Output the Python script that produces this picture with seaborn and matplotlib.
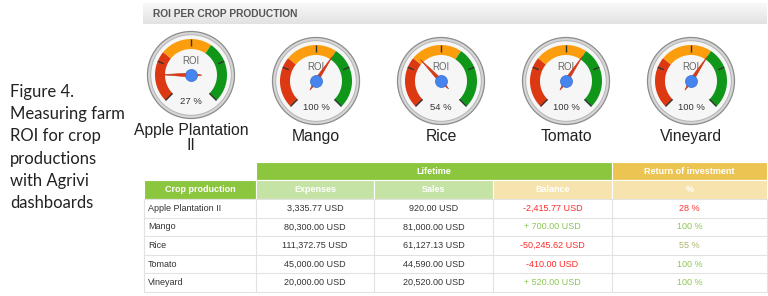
import numpy as np
import textwrap
import matplotlib
matplotlib.use("Agg")
import matplotlib.pyplot as plt
from matplotlib.patches import Circle, Polygon, Rectangle
import seaborn as sns

# ---------------- data ----------------
crops = ["Apple Plantation II", "Mango", "Rice", "Tomato", "Vineyard"]
gauge_roi = [27, 100, 54, 100, 100]          # value shown in gauges (%)
expenses = [3335.77, 80300.00, 111372.75, 45000.00, 20000.00]
sales = [920.00, 81000.00, 61127.13, 44590.00, 20520.00]
balance = [-2415.77, 700.00, -50245.62, -410.00, 520.00]
table_roi = [28, 100, 55, 100, 100]          # % column of table
gauge_min, gauge_max = 0, 160
zones = [(0, 50, "#dc3912"), (50, 100, "#fb9d0c"), (100, 160, "#109618")]
title = "ROI PER CROP PRODUCTION"
caption = ["Figure 4.", "Measuring farm", "ROI for crop", "productions",
           "with Agrivi", "dashboards"]
col_headers = ["Crop production", "Expenses", "Sales", "Balance", "%"]

# ---------------- setup ----------------
sns.set_theme(style="white")
plt.rcParams["font.family"] = ["Liberation Sans", "DejaVu Sans"]

fig = plt.figure(figsize=(7.68, 2.96), dpi=100)
ax = fig.add_axes([0, 0, 1, 1])
ax.set_xlim(0, 768)
ax.set_ylim(296, 0)
ax.axis("off")


def ang(v):
    return np.deg2rad(-135 + 270 * (v - gauge_min) / (gauge_max - gauge_min))


def pt(cx, cy, r, a):
    return cx + r * np.sin(a), cy - r * np.cos(a)


# ---------------- header bar ----------------
grad = np.linspace(0, 1, 50).reshape(-1, 1)
ax.imshow(grad, cmap=matplotlib.colors.LinearSegmentedColormap.from_list(
    "g", ["#f9f9f9", "#e2e2e2"]), extent=(143, 767, 24, 3), aspect="auto", zorder=0)
ax.text(153, 14, title, fontsize=7.4, fontweight="bold", color="#555555",
        va="center", ha="left")

# ---------------- caption ----------------
for i, line in enumerate(caption):
    ax.text(10, 92 + 22.2 * i, line, fontsize=12, color="#222222", va="center",
            ha="left", family=["Lato", "DejaVu Sans"])

# ---------------- gauges ----------------
cxs, cys = [], []
for i, (name, v) in enumerate(zip(crops, gauge_roi)):
    lines = textwrap.wrap(name, 16)
    cx = 191 + 125 * i
    cy = 81 - 6 * (len(lines) - 1)
    cxs.append(cx)
    cys.append(cy)
    ax.add_patch(Circle((cx, cy), 43.5, fc="#d6d6d6", ec="#8c8c8c", lw=0.9, zorder=1))
    ax.add_patch(Circle((cx, cy), 40.3, fc="#f6f6f6", ec="#b3b3b3", lw=0.7, zorder=1))
    for z0, z1, col in zones:
        a = np.linspace(ang(z0), ang(z1), 60)
        xo, yo = pt(cx, cy, 36, a)
        xi, yi = pt(cx, cy, 26, a[::-1])
        ax.add_patch(Polygon(np.column_stack([np.r_[xo, xi], np.r_[yo, yi]]),
                             fc=col, ec="none", zorder=2))
    for tv in np.linspace(gauge_min, gauge_max, 5):
        a = ang(tv)
        r0 = 26 if tv in (gauge_min, gauge_max) else 29.5
        x0, y0 = pt(cx, cy, r0, a)
        x1, y1 = pt(cx, cy, 36, a)
        ax.plot([x0, x1], [y0, y1], color="#333333", lw=1.0, zorder=3,
                solid_capstyle="butt")
    ax.text(cx, cy - 14, "ROI", fontsize=6.9, color="#666666", ha="center",
            va="center", zorder=3)
    ax.text(cx, cy + 26, f"{v} %", fontsize=6.8, color="#333333", ha="center",
            va="center", zorder=3)
    a = ang(v)
    tip = pt(cx, cy, 30, a)
    tail = pt(cx, cy, -11, a)
    l = pt(cx, cy, 2.0, a - np.pi / 2)
    r = pt(cx, cy, 2.0, a + np.pi / 2)
    ax.add_patch(Polygon([tip, l, tail, r], fc="#dc3912", ec="#c5361a", lw=0.4,
                         zorder=4))
    if len(lines) == 1:
        ax.text(cx, cy + 60, lines[0], fontsize=11.3, color="#222222",
                ha="center", va="baseline", zorder=3)
    else:
        ax.text(cx, cy + 60, lines[0], fontsize=11.3, color="#222222",
                ha="center", va="baseline", zorder=3)
        ax.text(cx, cy + 75, " ".join(lines[1:]), fontsize=11.3, color="#222222",
                ha="center", va="baseline", zorder=3)

sns.scatterplot(x=cxs, y=cys, ax=ax, s=75, color="#4684ee", edgecolor="#3b6fcf",
                linewidth=0.5, zorder=5, legend=False)
ax.set_xlim(0, 768)
ax.set_ylim(296, 0)
ax.axis("off")

# ---------------- table ----------------
xe = [144, 256, 374, 493, 612, 767]
h1, h2 = 162, 180
top = 199
rh = 18.6
green, lgreen, gold, lgold = "#8cc63e", "#c6e3a6", "#ebc451", "#f6e3ad"


def cell(x0, x1, y0, y1, col, txt):
    ax.add_patch(Rectangle((x0, y0), x1 - x0, y1 - y0, fc=col, ec="white",
                           lw=0.8, zorder=1))
    ax.text((x0 + x1) / 2, (y0 + y1) / 2, txt, fontsize=6.5, fontweight="bold",
            color="white", ha="center", va="center", zorder=2)


cell(xe[1], xe[4], h1, h2, green, "Lifetime")
cell(xe[4], xe[5], h1, h2, gold, "Return of investment")
hcols = [green, lgreen, lgreen, lgold, lgold]
for j, (hdr, col) in enumerate(zip(col_headers, hcols)):
    cell(xe[j], xe[j + 1], h2, top, col, hdr)

bottom = top + rh * len(crops)
for i in range(len(crops) + 1):
    y = top + rh * i
    ax.plot([xe[0], xe[-1]], [y, y], color="#e2e2e2", lw=0.8, zorder=1)
for x in xe:
    ax.plot([x, x], [top, bottom], color="#e2e2e2", lw=0.8, zorder=1)


def money(v, signed=False):
    s = f"{abs(v):,.2f} USD"
    if not signed:
        return s
    return f"-{s}" if v < 0 else f"+ {s}"


def roi_color(v):
    if v < 50:
        return "#ff3333"
    if v < 100:
        return "#b0b36c"
    return "#8dc655"


for i, crop in enumerate(crops):
    yc = top + rh * (i + 0.5)
    ax.text(xe[0] + 4, yc, crop, fontsize=6.5, color="#333333", va="center",
            ha="left")
    ax.text((xe[1] + xe[2]) / 2, yc, money(expenses[i]), fontsize=6.5,
            color="#333333", va="center", ha="center")
    ax.text((xe[2] + xe[3]) / 2, yc, money(sales[i]), fontsize=6.5,
            color="#333333", va="center", ha="center")
    ax.text((xe[3] + xe[4]) / 2, yc, money(balance[i], True), fontsize=6.5,
            color="#ff2b2b" if balance[i] < 0 else "#8dc655", va="center",
            ha="center")
    ax.text((xe[4] + xe[5]) / 2, yc, f"{table_roi[i]} %", fontsize=6.5,
            color=roi_color(table_roi[i]), va="center", ha="center")

fig.savefig("out.png", dpi=100, facecolor="white")
